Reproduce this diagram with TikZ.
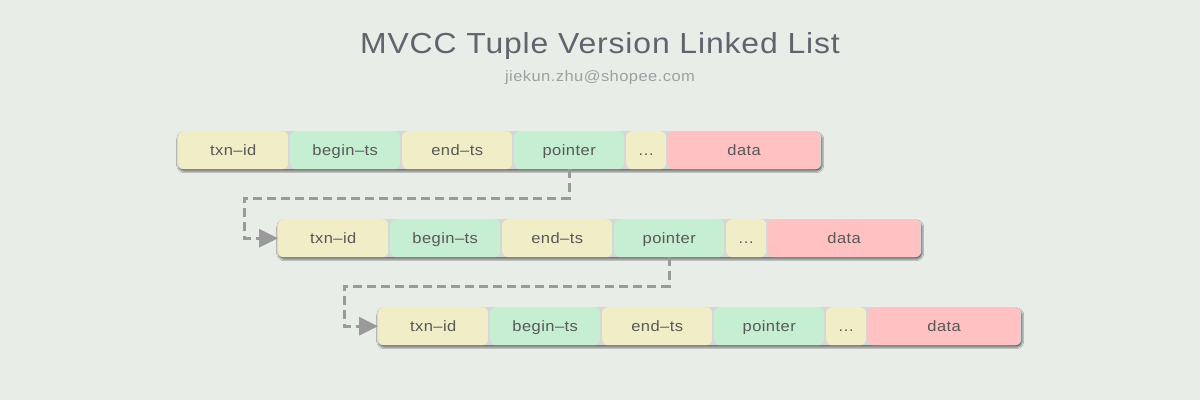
\documentclass[tikz,border=0pt]{standalone}
\usepackage{fontspec}
\setmainfont{Liberation Sans}[FakeStretch=1.1, LetterSpace=3]
\usetikzlibrary{arrows.meta,shadows.blur,calc}
\definecolor{bgc}{HTML}{E9EDE8}
\definecolor{cyel}{HTML}{F0EDC7}
\definecolor{cgrn}{HTML}{C6EED2}
\definecolor{cpnk}{HTML}{FFC1C1}
\definecolor{rowgray}{HTML}{D6D6D6}
\definecolor{txtc}{HTML}{585858}
\definecolor{titc}{HTML}{63636E}
\definecolor{subc}{HTML}{9AA2A2}
\definecolor{connc}{HTML}{9A9A9A}
\tikzset{
  rowbox/.style={fill=rowgray, rounded corners=6pt, inner sep=0pt, anchor=north west,
    minimum width=644pt, minimum height=38pt,
    blur shadow={shadow xshift=1pt, shadow yshift=-2pt, shadow blur radius=1.5pt, shadow opacity=55}},
  cellbox/.style={rounded corners=6pt, minimum height=38pt, inner sep=0pt, anchor=north west,
    text height=10.8pt, text depth=0pt, font=\fontsize{15}{18}\selectfont, text=txtc},
  conn/.style={draw=connc, line width=3pt, dash pattern=on 9pt off 5pt,
    -{Triangle[length=19pt,width=18pt]}},
}
\begin{document}
\begin{tikzpicture}[x=1pt,y=-1pt]
\fill[bgc] (0,0) rectangle (1200,400);
\useasboundingbox (0,0) rectangle (1200,400);
\node[font=\fontsize{29}{33}\selectfont, text=titc, anchor=base] (title) at (600,53) {MVCC Tuple Version Linked List};
\node[font=\fontsize{15}{18}\selectfont, text=subc, anchor=base] (sub) at (600,81) {jiekun.zhu@shopee.com};
\foreach \r/\x/\y in {1/177/131,2/277/219,3/377/307}{
  \node[rowbox] (row\r) at (\x,\y) {};
  \node[cellbox, fill=cyel, minimum width=110pt] (txn\r) at (\x+1,\y) {txn–id};
  \node[cellbox, fill=cgrn, minimum width=110pt] (beg\r) at (\x+113,\y) {begin–ts};
  \node[cellbox, fill=cyel, minimum width=110pt] (end\r) at (\x+225,\y) {end–ts};
  \node[cellbox, fill=cgrn, minimum width=110pt] (ptr\r) at (\x+337,\y) {pointer};
  \node[cellbox, fill=cyel, minimum width=40pt] (dot\r) at (\x+449,\y) {…};
  \node[cellbox, fill=cpnk, minimum width=152pt] (dat\r) at (\x+491,\y) {data};
}
\draw[conn] (ptr1.south) -- ++(0,29) -| ([xshift=-34pt]txn2.west) -- (txn2.west);
\draw[conn] (ptr2.south) -- ++(0,29) -| ([xshift=-34pt]txn3.west) -- (txn3.west);
\end{tikzpicture}
\end{document}
